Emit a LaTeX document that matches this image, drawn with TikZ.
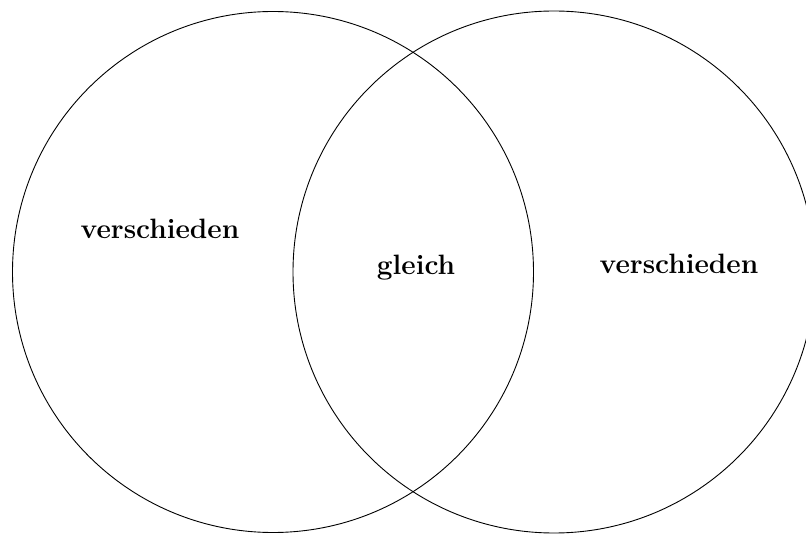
\documentclass[tikz,border=0pt]{standalone}
\usepackage{tikz}

\tikzset{
  menge/.style={circle, draw, line width=0.9pt, inner sep=0pt},
  beschr/.style={anchor=base, font=\fontsize{28}{34}\selectfont\bfseries}
}

\begin{document}
\begin{tikzpicture}[x=1pt,y=1pt]
\useasboundingbox (0,0) rectangle (806,533);
%----------------------------------
\node [menge, minimum size=521pt] (links) at (273,261) {};
\node [menge, minimum size=522pt] (rechts) at (554,261) {};
%----------------------------------
\node [beschr] (vl) at (160,294) {verschieden};
\node [beschr] (gl) at (416,258) {gleich};
\node [beschr] (vr) at (679,259) {verschieden};
\end{tikzpicture}
\end{document}
